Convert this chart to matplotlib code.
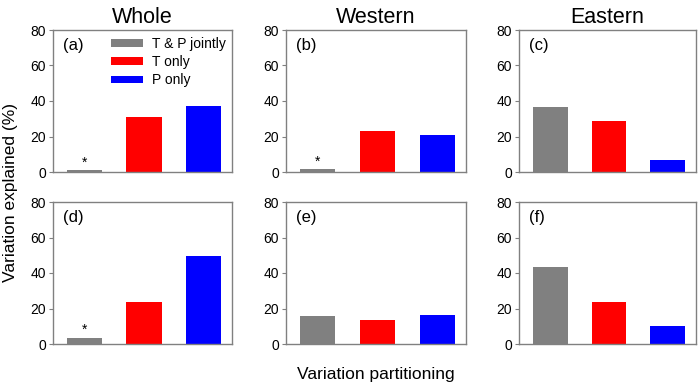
import matplotlib
matplotlib.use("Agg")
import matplotlib.pyplot as plt

plt.rcParams['font.family'] = ['Liberation Sans', 'DejaVu Sans']

components = ["T & P jointly", "T only", "P only"]
colors = ["#808080", "#ff0000", "#0000ff"]
col_titles = ["Whole", "Western", "Eastern"]
panel_labels = ["(a)", "(b)", "(c)", "(d)", "(e)", "(f)"]
values = {
    "(a)": [1.2, 31.2, 37.4],
    "(b)": [1.6, 23.1, 20.8],
    "(c)": [36.8, 28.6, 6.6],
    "(d)": [3.6, 23.5, 49.6],
    "(e)": [15.6, 13.3, 16.3],
    "(f)": [43.1, 23.7, 10.3],
}
stars = {"(a)": True, "(b)": True, "(c)": False, "(d)": True, "(e)": False, "(f)": False}
yticks = [0, 20, 40, 60, 80]

fig = plt.figure(figsize=(7, 3.84), dpi=100)
lefts = [53 / 700, 286 / 700, 519 / 700]
widths = [179 / 700, 180 / 700, 177 / 700]
bottoms = [(384 - 172) / 384, (384 - 344) / 384]
h = 142 / 384
spine_c = "#808080"

for r in range(2):
    for c in range(3):
        lab = panel_labels[r * 3 + c]
        ax = fig.add_axes([lefts[c], bottoms[r], widths[c], h])
        vals = values[lab]
        bars = ax.bar(range(3), vals, width=0.59, color=colors, label=components)
        ax.set_xlim(-0.53, 2.48)
        ax.set_ylim(0, 80)
        ax.set_yticks(yticks)
        ax.set_xticks([])
        for s in ax.spines.values():
            s.set_color(spine_c)
            s.set_linewidth(1.0)
        ax.tick_params(axis='y', direction='out', length=3, color=spine_c,
                       labelsize=10, labelcolor='black', pad=2)
        ax.text(0.055, 0.945, lab, transform=ax.transAxes, ha='left', va='top', fontsize=12)
        if stars[lab]:
            ax.text(0, vals[0] + 0.2, "*", ha='center', va='bottom', fontsize=10)
        if r == 0:
            ax.set_title(col_titles[c], fontsize=15.5, pad=5)
        if r == 0 and c == 0:
            ax.legend(bars, components, loc='upper right', frameon=False,
                      fontsize=10, handlelength=2.3, handleheight=0.45,
                      labelspacing=0.3, handletextpad=0.6,
                      borderaxespad=0.2, bbox_to_anchor=(1.01, 1.01))

fig.text(0.004, 0.5, "Variation explained (%)", rotation=90, ha='left', va='center', fontsize=12.5)
fig.text(376 / 700, 1 - 374 / 384, "Variation partitioning", ha='center', va='center', fontsize=12.5)

fig.savefig("out.png", dpi=100)
